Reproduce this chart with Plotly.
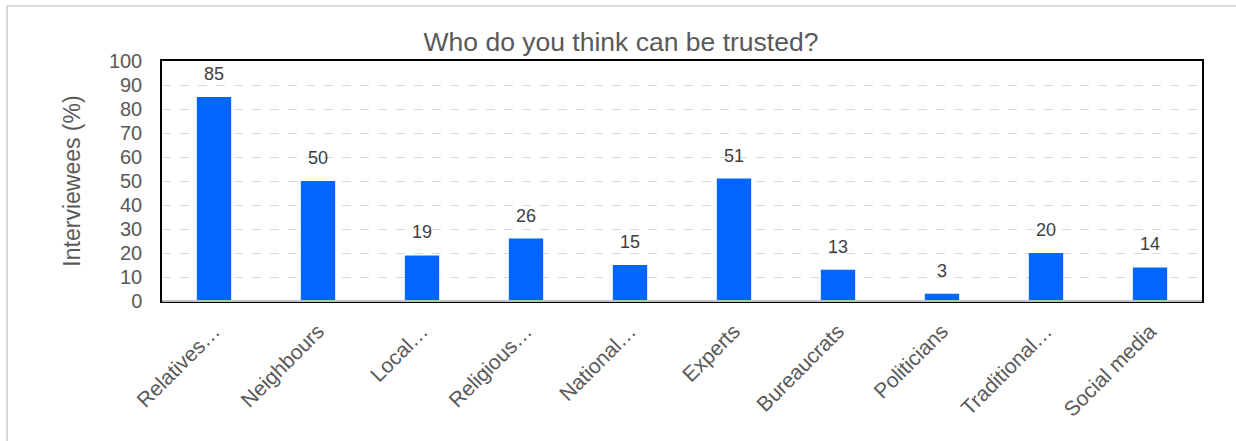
import plotly.graph_objects as go

categories = ["Relatives…", "Neighbours", "Local…", "Religious…", "National…",
              "Experts", "Bureaucrats", "Politicians", "Traditional…", "Social media"]
values = [85, 50, 19, 26, 15, 51, 13, 3, 20, 14]
y_ticks = list(range(0, 101, 10))

W, H = 1236, 441
L, R, T, B = 162, 34, 61, 140
pw, ph = W - L - R, H - T - B
FONT = "Liberation Sans, Arial"

def px(x):
    return (x - L) / pw

def py(y):
    return (H - B - y) / ph

fig = go.Figure()
fig.add_trace(go.Bar(
    x=categories, y=values,
    marker=dict(color="#0066ff", line=dict(width=0)),
    hoverinfo="x+y",
))

for c, v in zip(categories, values):
    fig.add_annotation(x=c, y=v, text=str(v), showarrow=False,
                       yanchor="bottom", yshift=11,
                       font=dict(family=FONT, size=18, color="#404040"))

# outer frame around the chart
fig.add_shape(type="rect", xref="paper", yref="paper",
              x0=px(7), x1=px(W + 5), y0=py(H + 5), y1=py(6),
              line=dict(color="#d9d9d9", width=2), layer="below")

fig.update_layout(
    width=W, height=H,
    margin=dict(l=L, r=R, t=T, b=B, autoexpand=False),
    paper_bgcolor="white", plot_bgcolor="white",
    bargap=0.67,
    showlegend=False,
    title=dict(text="Who do you think can be trusted?", x=621 / W, xref="container",
               y=1 - 42 / H, yref="container", xanchor="center", yanchor="middle",
               font=dict(family=FONT, size=26.5, color="#595959")),
    font=dict(family=FONT, color="#595959"),
)

fig.update_yaxes(
    range=[0, 100], tickvals=y_ticks,
    tickfont=dict(size=20, color="#595959"),
    ticklabelstandoff=14,
    showgrid=True, gridcolor="#d9d9d9", griddash="dash", gridwidth=1,
    showline=True, linecolor="black", linewidth=1.5, mirror=True,
    zeroline=False,
    title=dict(text="Interviewees (%)", font=dict(size=23, color="#595959"), standoff=22),
)
fig.update_xaxes(
    tickangle=-45,
    tickfont=dict(size=21, color="#595959"),
    ticklabelstandoff=8,
    showline=True, linecolor="black", linewidth=1.5, mirror=True,
    showgrid=False,
)
# light grey baseline along the bottom of the plot
fig.add_shape(type="line", xref="paper", yref="paper", x0=0, x1=1, y0=0, y1=0,
              line=dict(color="#bfbfbf", width=2))

fig.write_html("out.html")
